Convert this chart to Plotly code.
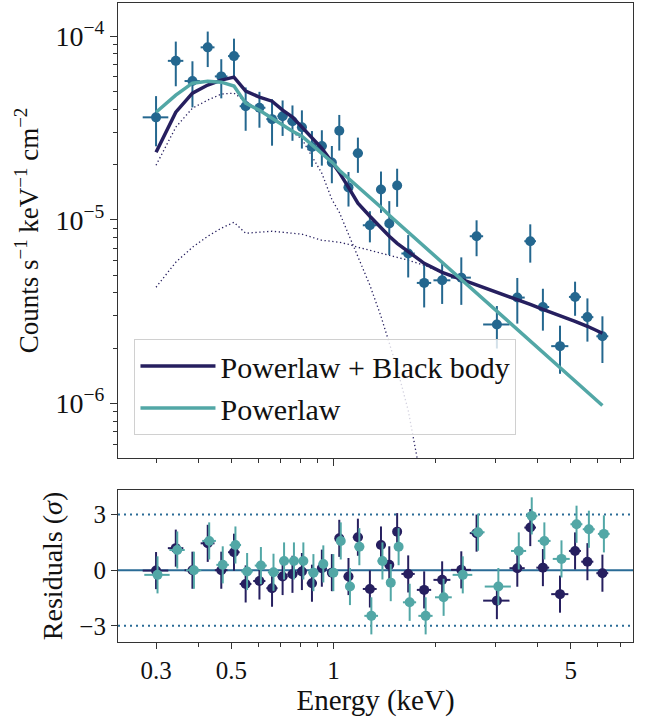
import plotly.graph_objects as go

# bin centres (keV) and half widths
energy = [0.30, 0.343, 0.384, 0.426, 0.467, 0.509, 0.551, 0.605, 0.659, 0.708,
          0.757, 0.807, 0.864, 0.924, 0.989, 1.04, 1.107, 1.18, 1.28, 1.38,
          1.46, 1.54, 1.66, 1.85, 2.09, 2.38, 2.64, 3.03, 3.48, 3.80,
          4.14, 4.65, 5.15, 5.60, 6.20]
energy_err = [0.026, 0.018, 0.02, 0.02, 0.02, 0.02, 0.022, 0.025, 0.025, 0.024,
              0.025, 0.025, 0.03, 0.03, 0.03, 0.03, 0.035, 0.04, 0.06, 0.045,
              0.04, 0.04, 0.075, 0.09, 0.12, 0.16, 0.12, 0.27, 0.18, 0.15,
              0.18, 0.27, 0.21, 0.23, 0.25]

# observed spectrum
flux = [3.61e-5, 7.33e-5, 5.69e-5, 8.68e-5, 6.03e-5, 7.78e-5, 4.15e-5, 4.07e-5, 3.53e-5, 3.66e-5,
        3.44e-5, 3.19e-5, 2.49e-5, 2.52e-5, 2.05e-5, 3.05e-5, 1.50e-5, 2.30e-5, 9.33e-6, 1.46e-5,
        9.53e-6, 1.536e-5, 6.55e-6, 4.53e-6, 4.68e-6, 4.84e-6, 8.13e-6, 2.69e-6, 3.77e-6, 7.64e-6,
        3.35e-6, 2.05e-6, 3.80e-6, 2.95e-6, 2.32e-6]
flux_err = [1.1e-5, 2.0e-5, 1.6e-5, 1.9e-5, 1.45e-5, 1.9e-5, 1.1e-5, 0.9e-5, 1.0e-5, 0.8e-5,
            0.75e-5, 0.75e-5, 0.55e-5, 0.55e-5, 0.47e-5, 0.67e-5, 0.32e-5, 0.5e-5, 1.8e-6, 3.7e-6,
            3.1e-6, 3.6e-6, 1.7e-6, 1.2e-6, 1.2e-6, 1.4e-6, 1.8e-6, 0.7e-6, 1.05e-6, 1.8e-6,
            0.86e-6, 0.6e-6, 0.8e-6, 0.78e-6, 0.66e-6]

# models
model_plbb = [2.33e-5, 3.85e-5, 4.89e-5, 5.41e-5, 5.76e-5, 5.98e-5, 5.02e-5, 4.65e-5, 4.42e-5, 3.95e-5,
              3.62e-5, 3.19e-5, 2.82e-5, 2.45e-5, 2.06e-5, 1.81e-5, 1.50e-5, 1.23e-5, 1.045e-5, 8.99e-6,
              8.13e-6, 7.44e-6, 6.73e-6, 5.79e-6, 5.17e-6, 4.74e-6, 4.45e-6, 4.03e-6, 3.69e-6, 3.46e-6,
              3.25e-6, 3.02e-6, 2.80e-6, 2.63e-6, 2.41e-6]
model_pl = [3.85e-5, 4.77e-5, 5.54e-5, 5.68e-5, 5.61e-5, 5.34e-5, 4.31e-5, 3.95e-5, 3.57e-5, 3.27e-5,
            3.03e-5, 2.85e-5, 2.55e-5, 2.30e-5, 2.06e-5, 1.86e-5, 1.68e-5, 1.50e-5, 1.33e-5, 1.17e-5,
            1.058e-5, 9.69e-6, 8.55e-6, 7.17e-6, 5.87e-6, 4.74e-6, 3.98e-6, 3.17e-6, 2.53e-6, 2.20e-6,
            1.90e-6, 1.57e-6, 1.32e-6, 1.148e-6, 9.75e-7]
# components of the powerlaw + black body fit
comp_bb = [1.98e-5, 3.19e-5, 4.05e-5, 4.48e-5, 4.83e-5, 4.89e-5, 4.42e-5, 3.95e-5, 3.62e-5, 3.27e-5,
           3.00e-5, 2.75e-5, 2.22e-5, 1.79e-5, 1.29e-5, 1.099e-5, 8.34e-6, 6.25e-6, 4.40e-6, 2.98e-6,
           2.15e-6, 1.55e-6, 9.16e-7, 3.15e-7]
comp_pl = [4.29e-6, 5.87e-6, 7.08e-6, 8.13e-6, 8.99e-6, 9.69e-6, 8.44e-6, 8.55e-6, 8.66e-6, 8.55e-6,
           8.44e-6, 8.34e-6, 8.03e-6, 7.73e-6, 7.63e-6, 7.54e-6, 7.35e-6, 7.08e-6, 6.82e-6, 6.57e-6,
           6.40e-6, 6.25e-6, 6.02e-6, 5.65e-6, 5.15e-6, 4.72e-6, 4.43e-6, 4.01e-6, 3.67e-6, 3.44e-6,
           3.23e-6, 3.00e-6, 2.78e-6, 2.61e-6, 2.39e-6]

# residuals in sigma
resid_plbb = [-0.02, 1.19, 0.0, 1.45, 0.0, 0.97, -0.74, -0.58, -0.97, -0.34,
              -0.22, -0.07, -0.70, 0.11, -0.13, 1.72, -0.34, 1.78, -1.01, 1.36,
              0.29, 2.08, -0.20, -1.06, -0.52, 0.02, 2.0, -1.64, 0.11, 2.3,
              0.14, -1.29, 1.04, 0.46, -0.16]
resid_pl = [-0.25, 1.09, 0.0, 1.58, 0.29, 1.36, -0.07, 0.25, -0.11, 0.5,
            0.5, 0.5, -0.13, 0.34, -0.13, 1.58, -0.88, 1.27, -2.46, 0.5,
            -0.67, 1.27, -1.73, -2.46, -1.46, -0.25, 2.05, -0.88, 1.04, 2.93,
            1.58, 0.61, 2.48, 2.21, 1.96]

NAVY = "#261f5f"
TEAL = "#52a7a6"
DATA = "#24678f"
LINE = "#2a6b96"
FONT = "Liberation Serif, Times New Roman, serif"
DOTS = "1.3px,2.6px"

fig = go.Figure()

fig.add_trace(go.Scatter(x=energy[:len(comp_bb)], y=comp_bb, mode="lines", showlegend=False,
                         line=dict(color=NAVY, width=1.3, dash=DOTS), xaxis="x", yaxis="y"))
fig.add_trace(go.Scatter(x=energy, y=comp_pl, mode="lines", showlegend=False,
                         line=dict(color=NAVY, width=1.3, dash=DOTS), xaxis="x", yaxis="y"))
fig.add_trace(go.Scatter(
    x=energy, y=flux, mode="markers", showlegend=False,
    marker=dict(color=DATA, size=10),
    error_x=dict(type="data", array=energy_err, color=DATA, thickness=2, width=0),
    error_y=dict(type="data", array=flux_err, color=DATA, thickness=2, width=0),
    xaxis="x", yaxis="y"))
fig.add_trace(go.Scatter(x=energy, y=model_plbb, mode="lines", name="Powerlaw + Black body",
                         line=dict(color=NAVY, width=3.5), xaxis="x", yaxis="y"))
fig.add_trace(go.Scatter(x=energy, y=model_pl, mode="lines", name="Powerlaw",
                         line=dict(color=TEAL, width=3.5), xaxis="x", yaxis="y"))

# residual panel
ones = [1.0] * len(energy)
fig.add_trace(go.Scatter(
    x=energy, y=resid_plbb, mode="markers", showlegend=False,
    marker=dict(color=NAVY, size=10),
    error_x=dict(type="data", array=energy_err, color=NAVY, thickness=2, width=0),
    error_y=dict(type="data", array=ones, color=NAVY, thickness=2, width=0),
    xaxis="x2", yaxis="y2"))
fig.add_trace(go.Scatter(
    x=[e * 1.01 for e in energy], y=resid_pl, mode="markers", showlegend=False,
    marker=dict(color=TEAL, size=10),
    error_x=dict(type="data", array=energy_err, color=TEAL, thickness=2, width=0),
    error_y=dict(type="data", array=ones, color=TEAL, thickness=2, width=0),
    xaxis="x2", yaxis="y2"))

for lvl, dash in ((0, "solid"), (3, "2px,4px"), (-3, "2px,4px")):
    fig.add_shape(type="line", xref="x2 domain", yref="y2", x0=0, x1=1, y0=lvl, y1=lvl,
                  line=dict(color=LINE, width=2, dash=dash), layer="below")

x_minor = [0.4, 0.6, 0.7, 0.8, 0.9, 2, 3, 4, 6, 7]
y_minor = [m * 10.0 ** p for p in (-7, -6, -5) for m in range(2, 10)]

axis_common = dict(showline=True, linecolor="#333", linewidth=1.2, mirror=True,
                   ticks="outside", tickcolor="#333", showgrid=False, zeroline=False,
                   automargin=False)

fig.update_layout(
    width=649, height=719,
    margin=dict(l=118, r=16, t=3, b=77),
    plot_bgcolor="white", paper_bgcolor="white",
    font=dict(family=FONT, size=25, color="#111"),
    showlegend=True,
    legend=dict(x=0.032, y=0.474, xanchor="left", yanchor="top",
                bgcolor="rgba(255,255,255,0.8)", bordercolor="#d0d0d0", borderwidth=1,
                font=dict(size=30, family=FONT), itemwidth=75),
    xaxis=dict(type="log", range=[-0.635, 0.8825], anchor="y", domain=[0, 1],
               tickvals=[1], ticklen=7, showticklabels=False,
               minor=dict(tickvals=[0.3, 0.5, 5] + x_minor, ticklen=4, ticks="outside", tickcolor="#333"),
               **axis_common),
    yaxis=dict(type="log", range=[-6.297, -3.82], domain=[0.288, 1], anchor="x",
               tickvals=[1e-6, 1e-5, 1e-4],
               ticktext=["10<sup>−6</sup>", "10<sup>−5</sup>", "10<sup>−4</sup>"],
               ticklen=7, tickfont=dict(size=28),
               minor=dict(tickvals=y_minor, ticklen=4, ticks="outside", tickcolor="#333"),
               title=dict(text="Counts s<sup>−1</sup> keV<sup>−1</sup> cm<sup>−2</sup>",
                          font=dict(size=27), standoff=8),
               **axis_common),
    xaxis2=dict(type="log", range=[-0.635, 0.8825], anchor="y2", domain=[0, 1], matches="x",
                tickvals=[0.3, 0.5, 1, 5], ticktext=["0.3", "0.5", "1", "5"], ticklen=6,
                minor=dict(tickvals=x_minor, ticklen=4, ticks="outside", tickcolor="#333"),
                title=dict(text="Energy (keV)", font=dict(size=29), standoff=0),
                **axis_common),
    yaxis2=dict(range=[-3.87, 4.33], domain=[0, 0.238], anchor="x2",
                tickvals=[-3, 0, 3], ticktext=["−3", "0", "3"], ticklen=6,
                title=dict(text="Residuals (<i>σ</i>)", font=dict(size=28), standoff=8),
                **axis_common),
)

# the page body has a default 8px margin; drop it so the figure fills the window
fig.write_html("out.html", config={"displayModeBar": False},
               post_script="document.body.style.margin='0';")
